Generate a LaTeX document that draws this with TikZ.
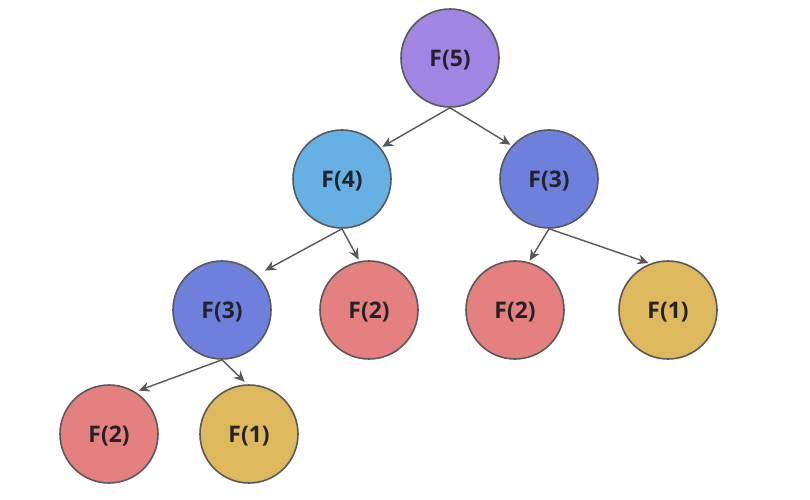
\documentclass[tikz,border=0pt]{standalone}
\usepackage{fontspec}
\setmainfont{Open Sans}
\usetikzlibrary{arrows.meta}
\definecolor{lilac}{RGB}{160,134,226}
\definecolor{sky}{RGB}{102,176,228}
\definecolor{indigo}{RGB}{110,128,220}
\definecolor{salmon}{RGB}{228,128,128}
\definecolor{gold}{RGB}{222,184,92}
\definecolor{rim}{RGB}{88,88,88}
\definecolor{ink}{RGB}{34,34,40}
\tikzset{
  >={Stealth[length=2.2mm,width=2mm]},
  call/.style={circle,draw=rim,fill=#1,line width=0.9pt,minimum size=19.6mm,
    inner sep=0pt,text depth=0pt,text=ink,font=\fontsize{13}{15}\selectfont\bfseries},
  call/.default=salmon,
  edge/.style={->,draw=rim,line width=0.8pt,shorten >=1pt},
}
\begin{document}
\begin{tikzpicture}
  \useasboundingbox (0,0) rectangle (16.2,9.98);
  % calls
  \node[call=lilac]  (f5)  at (9.0,8.82)  {F(5)};
  \node[call=sky]    (f4)  at (6.84,6.4)  {F(4)};
  \node[call=indigo] (f3r) at (10.98,6.4) {F(3)};
  \node[call=indigo] (f3l) at (4.44,3.78) {F(3)};
  \node[call]        (f2m) at (7.38,3.78) {F(2)};
  \node[call]        (f2r) at (10.3,3.78) {F(2)};
  \node[call=gold]   (f1r) at (13.36,3.78) {F(1)};
  \node[call]        (f2b) at (2.18,1.3)  {F(2)};
  \node[call=gold]   (f1b) at (4.98,1.3)  {F(1)};
  % recursion
  \draw[edge] (f5.south) -- (f4.39);
  \draw[edge] (f5.south) -- (f3r.138);
  \draw[edge,shorten >=5pt] (f4.south) -- (f3l.45);
  \draw[edge] (f4.south) -- (f2m.101);
  \draw[edge] (f3r.south) -- (f2r.74);
  \draw[edge] (f3r.south) -- (f1r.111);
  \draw[edge,shorten >=2pt] (f3l.south) -- (f2b.58);
  \draw[edge,shorten >=2pt] (f3l.south) -- (f1b.92);
\end{tikzpicture}
\end{document}
